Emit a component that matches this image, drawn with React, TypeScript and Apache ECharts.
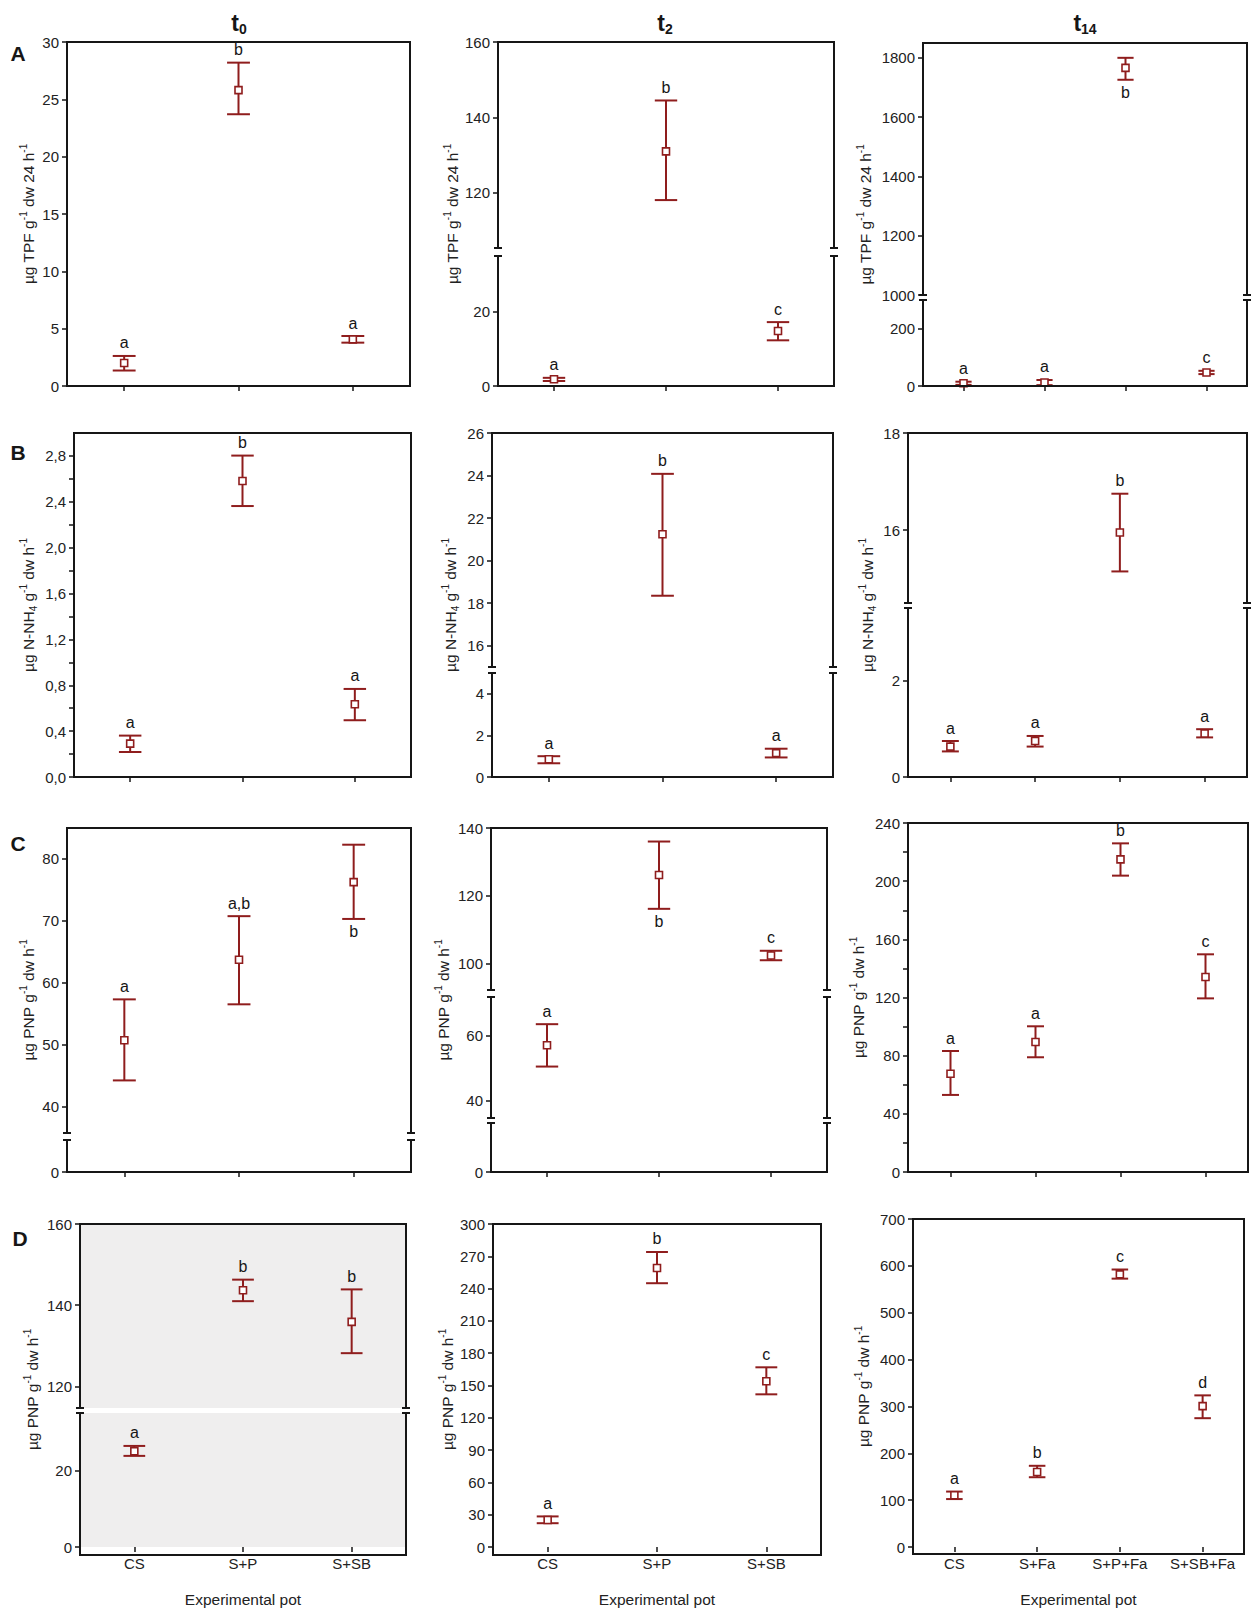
import React, { useEffect, useRef } from "react";
import * as echarts from "echarts";

// ---------- categories ----------
const CATS3 = ["CS", "S+P", "S+SB"];
const CATS4 = ["CS", "S+Fa", "S+P+Fa", "S+SB+Fa"];

// ---------- Row A : µg TPF g-1 dw 24 h-1 ----------
const A_T0_MEAN = [2.0, 25.8, 4.07];
const A_T0_LOW = [1.35, 23.7, 3.78];
const A_T0_HIGH = [2.62, 28.2, 4.36];
const A_T0_LET = ["a", "b", "a"];
const A_T0_POS = ["above", "above", "above"];

const A_T2_MEAN = [1.8, 131.0, 14.8];
const A_T2_LOW = [1.35, 118.1, 12.3];
const A_T2_HIGH = [2.2, 144.5, 17.2];
const A_T2_LET = ["a", "b", "c"];
const A_T2_POS = ["above", "above", "above"];

const A_T14_MEAN = [9.5, 12, 1766, 47];
const A_T14_LOW = [4, 3, 1726, 41.5];
const A_T14_HIGH = [15, 21, 1800, 53];
const A_T14_LET = ["a", "a", "b", "c"];
const A_T14_POS = ["above", "above", "below", "above"];

// ---------- Row B : µg N-NH4 g-1 dw h-1 ----------
const B_T0_MEAN = [0.291, 2.581, 0.634];
const B_T0_LOW = [0.218, 2.363, 0.495];
const B_T0_HIGH = [0.361, 2.803, 0.768];
const B_T0_LET = ["a", "b", "a"];
const B_T0_POS = ["above", "above", "above"];

const B_T2_MEAN = [0.85, 21.24, 1.15];
const B_T2_LOW = [0.66, 18.35, 0.94];
const B_T2_HIGH = [1.0, 24.08, 1.36];
const B_T2_LET = ["a", "b", "a"];
const B_T2_POS = ["above", "above", "above"];

const B_T14_MEAN = [0.63, 0.745, 15.95, 0.9];
const B_T14_LOW = [0.53, 0.63, 15.15, 0.82];
const B_T14_HIGH = [0.745, 0.85, 16.75, 0.99];
const B_T14_LET = ["a", "a", "b", "a"];
const B_T14_POS = ["above", "above", "above", "above"];

// ---------- Row C : µg PNP g-1 dw h-1 ----------
const C_T0_MEAN = [50.7, 63.7, 76.25];
const C_T0_LOW = [44.2, 56.5, 70.3];
const C_T0_HIGH = [57.3, 70.75, 82.3];
const C_T0_LET = ["a", "a,b", "b"];
const C_T0_POS = ["above", "above", "below"];

const C_T2_MEAN = [57.1, 126.1, 102.3];
const C_T2_LOW = [50.5, 116.1, 100.9];
const C_T2_HIGH = [63.6, 136.0, 103.7];
const C_T2_LET = ["a", "b", "c"];
const C_T2_POS = ["above", "below", "above"];

const C_T14_MEAN = [67.6, 89.4, 215.0, 134.1];
const C_T14_LOW = [53.0, 78.9, 203.8, 119.4];
const C_T14_HIGH = [83.2, 100.2, 226.0, 149.7];
const C_T14_LET = ["a", "a", "b", "c"];
const C_T14_POS = ["above", "above", "above", "above"];

// ---------- Row D : µg PNP g-1 dw h-1 ----------
const D_T0_MEAN = [25.0, 143.7, 135.9];
const D_T0_LOW = [23.8, 141.0, 128.2];
const D_T0_HIGH = [26.4, 146.3, 143.9];
const D_T0_LET = ["a", "b", "b"];
const D_T0_POS = ["above", "above", "above"];

const D_T2_MEAN = [25.1, 259.2, 153.9];
const D_T2_LOW = [22.1, 245.0, 141.8];
const D_T2_HIGH = [28.4, 274.0, 166.9];
const D_T2_LET = ["a", "b", "c"];
const D_T2_POS = ["above", "above", "above"];

const D_T14_MEAN = [110.6, 160.1, 581.8, 300.6];
const D_T14_LOW = [102.3, 148.9, 572.7, 274.9];
const D_T14_HIGH = [118.3, 173.3, 592.2, 323.6];
const D_T14_LET = ["a", "b", "c", "d"];
const D_T14_POS = ["above", "above", "above", "above"];

// ---------- tick labels ----------
const A_T0_TICKS = [0, 5, 10, 15, 20, 25, 30];
const A_T2_TICKS_HI = [120, 140, 160];
const A_T2_TICKS_LO = [0, 20];
const A_T14_TICKS_HI = [1000, 1200, 1400, 1600, 1800];
const A_T14_TICKS_LO = [0, 200];
const B_T0_TICKS = [0, 0.4, 0.8, 1.2, 1.6, 2.0, 2.4, 2.8];
const B_T0_MINOR = [0.2, 0.6, 1.0, 1.4, 1.8, 2.2, 2.6];
const B_T2_TICKS_HI = [16, 18, 20, 22, 24, 26];
const B_T2_TICKS_LO = [0, 2, 4];
const B_T14_TICKS_HI = [16, 18];
const B_T14_TICKS_LO = [0, 2];
const C_T0_TICKS_HI = [40, 50, 60, 70, 80];
const C_T0_TICKS_LO = [0];
const C_T2_TICKS_HI = [100, 120, 140];
const C_T2_TICKS_MID = [40, 60];
const C_T2_TICKS_LO = [0];
const C_T14_TICKS = [0, 40, 80, 120, 160, 200, 240];
const C_T14_MINOR = [20, 60, 100, 140, 180, 220];
const D_T0_TICKS_HI = [120, 140, 160];
const D_T0_TICKS_LO = [0, 20];
const D_T2_TICKS = [0, 30, 60, 90, 120, 150, 180, 210, 240, 270, 300];
const D_T14_TICKS = [0, 100, 200, 300, 400, 500, 600, 700];

const COL_TITLES = [
  { base: "t", sub: "0" },
  { base: "t", sub: "2" },
  { base: "t", sub: "14" },
];
const ROW_LETTERS = ["A", "B", "C", "D"];
const X_NAME = "Experimental pot";
const Y_NAME_A = "{n|µg TPF g}{sup|-1}{n| dw 24 h}{sup|-1}";
const Y_NAME_B = "{n|µg N-NH}{sub|4}{n| g}{sup|-1}{n| dw h}{sup|-1}";
const Y_NAME_CD = "{n|µg PNP g}{sup|-1}{n| dw h}{sup|-1}";

// ---------- style ----------
const RED = "#8f1d1d";
const INK = "#161616";
const FONT = '"Liberation Sans", Arial, Helvetica, sans-serif';

type Seg = { min: number; max: number; top: number; bottom: number; ticks: number[]; minor?: number[] };
type Panel = {
  cats: string[];
  mean: number[];
  low: number[];
  high: number[];
  letters: string[];
  pos: string[];
  L: number;
  R: number;
  segs: Seg[];
  yName: string;
  nameX: number;
  showX: boolean;
  bg?: string;
  comma?: boolean;
};

const PANELS: Panel[] = [
  // Row A
  {
    cats: CATS3, mean: A_T0_MEAN, low: A_T0_LOW, high: A_T0_HIGH, letters: A_T0_LET, pos: A_T0_POS,
    L: 67, R: 410, segs: [{ min: 0, max: 30, top: 42, bottom: 386, ticks: A_T0_TICKS }],
    yName: Y_NAME_A, nameX: 28, showX: false,
  },
  {
    cats: CATS3, mean: A_T2_MEAN, low: A_T2_LOW, high: A_T2_HIGH, letters: A_T2_LET, pos: A_T2_POS,
    L: 498, R: 834,
    segs: [
      { min: 105.4, max: 160, top: 42, bottom: 248, ticks: A_T2_TICKS_HI },
      { min: 0, max: 35, top: 256, bottom: 386, ticks: A_T2_TICKS_LO },
    ],
    yName: Y_NAME_A, nameX: 452, showX: false,
  },
  {
    cats: CATS4, mean: A_T14_MEAN, low: A_T14_LOW, high: A_T14_HIGH, letters: A_T14_LET, pos: A_T14_POS,
    L: 923, R: 1247,
    segs: [
      { min: 1000, max: 1850, top: 43, bottom: 295, ticks: A_T14_TICKS_HI },
      { min: 0, max: 300, top: 300, bottom: 386, ticks: A_T14_TICKS_LO },
    ],
    yName: Y_NAME_A, nameX: 865, showX: false,
  },
  // Row B
  {
    cats: CATS3, mean: B_T0_MEAN, low: B_T0_LOW, high: B_T0_HIGH, letters: B_T0_LET, pos: B_T0_POS,
    L: 74, R: 411, segs: [{ min: 0, max: 3.0, top: 433, bottom: 777, ticks: B_T0_TICKS, minor: B_T0_MINOR }],
    yName: Y_NAME_B, nameX: 28, showX: false, comma: true,
  },
  {
    cats: CATS3, mean: B_T2_MEAN, low: B_T2_LOW, high: B_T2_HIGH, letters: B_T2_LET, pos: B_T2_POS,
    L: 492, R: 833,
    segs: [
      { min: 15, max: 26, top: 433, bottom: 667, ticks: B_T2_TICKS_HI },
      { min: 0, max: 5, top: 673, bottom: 777, ticks: B_T2_TICKS_LO },
    ],
    yName: Y_NAME_B, nameX: 450, showX: false,
  },
  {
    cats: CATS4, mean: B_T14_MEAN, low: B_T14_LOW, high: B_T14_HIGH, letters: B_T14_LET, pos: B_T14_POS,
    L: 908, R: 1247,
    segs: [
      { min: 14.5, max: 18, top: 433, bottom: 603, ticks: B_T14_TICKS_HI },
      { min: 0, max: 3.5, top: 608, bottom: 777, ticks: B_T14_TICKS_LO },
    ],
    yName: Y_NAME_B, nameX: 867, showX: false,
  },
  // Row C
  {
    cats: CATS3, mean: C_T0_MEAN, low: C_T0_LOW, high: C_T0_HIGH, letters: C_T0_LET, pos: C_T0_POS,
    L: 67, R: 411,
    segs: [
      { min: 35.7, max: 85, top: 828, bottom: 1133, ticks: C_T0_TICKS_HI },
      { min: 0, max: 5, top: 1140, bottom: 1172, ticks: C_T0_TICKS_LO },
    ],
    yName: Y_NAME_CD, nameX: 28, showX: false,
  },
  {
    cats: CATS3, mean: C_T2_MEAN, low: C_T2_LOW, high: C_T2_HIGH, letters: C_T2_LET, pos: C_T2_POS,
    L: 491, R: 827,
    segs: [
      { min: 92.1, max: 140, top: 828, bottom: 990, ticks: C_T2_TICKS_HI },
      { min: 34.6, max: 72, top: 997, bottom: 1118, ticks: C_T2_TICKS_MID },
      { min: 0, max: 15, top: 1123, bottom: 1172, ticks: C_T2_TICKS_LO },
    ],
    yName: Y_NAME_CD, nameX: 443, showX: false,
  },
  {
    cats: CATS4, mean: C_T14_MEAN, low: C_T14_LOW, high: C_T14_HIGH, letters: C_T14_LET, pos: C_T14_POS,
    L: 908, R: 1248, segs: [{ min: 0, max: 240, top: 823, bottom: 1172, ticks: C_T14_TICKS, minor: C_T14_MINOR }],
    yName: Y_NAME_CD, nameX: 858, showX: false,
  },
  // Row D
  {
    cats: CATS3, mean: D_T0_MEAN, low: D_T0_LOW, high: D_T0_HIGH, letters: D_T0_LET, pos: D_T0_POS,
    L: 80, R: 406,
    segs: [
      { min: 114.7, max: 160, top: 1224, bottom: 1408, ticks: D_T0_TICKS_HI },
      { min: 0, max: 35, top: 1413, bottom: 1555, ticks: D_T0_TICKS_LO },
    ],
    yName: Y_NAME_CD, nameX: 32, showX: true, bg: "#efeeee",
  },
  {
    cats: CATS3, mean: D_T2_MEAN, low: D_T2_LOW, high: D_T2_HIGH, letters: D_T2_LET, pos: D_T2_POS,
    L: 493, R: 821, segs: [{ min: 0, max: 300, top: 1224, bottom: 1555, ticks: D_T2_TICKS }],
    yName: Y_NAME_CD, nameX: 447, showX: true,
  },
  {
    cats: CATS4, mean: D_T14_MEAN, low: D_T14_LOW, high: D_T14_HIGH, letters: D_T14_LET, pos: D_T14_POS,
    L: 913, R: 1244, segs: [{ min: 0, max: 700, top: 1219, bottom: 1554, ticks: D_T14_TICKS }],
    yName: Y_NAME_CD, nameX: 863, showX: true,
  },
];

const COL_TITLE_X = [239, 665, 1085];
const COL_TITLE_Y = 23;
const ROW_LETTER_POS = [
  [18, 53],
  [18, 452],
  [18, 843],
  [20, 1238],
];

function makeRender(p: Panel) {
  return (params: any, api: any) => {
    const c = api.value(0);
    const m = api.value(1);
    const lo = api.value(2);
    const hi = api.value(3);
    const idx = api.value(4);
    const pm = api.coord([c, m]);
    const pl = api.coord([c, lo]);
    const ph = api.coord([c, hi]);
    const band = api.size([1, 0])[0];
    const hw = band * 0.1;
    const st = { stroke: RED, lineWidth: 2 };
    const below = p.pos[idx] === "below";
    return {
      type: "group",
      children: [
        { type: "line", shape: { x1: pm[0], y1: ph[1], x2: pm[0], y2: pl[1] }, style: st },
        { type: "line", shape: { x1: pm[0] - hw, y1: ph[1], x2: pm[0] + hw, y2: ph[1] }, style: st },
        { type: "line", shape: { x1: pm[0] - hw, y1: pl[1], x2: pm[0] + hw, y2: pl[1] }, style: st },
        {
          type: "rect",
          shape: { x: pm[0] - 3.5, y: pm[1] - 3.5, width: 7, height: 7 },
          style: { fill: "#ffffff", stroke: RED, lineWidth: 1.6 },
        },
        {
          type: "text",
          style: {
            text: p.letters[idx],
            x: pm[0],
            y: below ? pl[1] + 5 : ph[1] - 5,
            align: "center",
            verticalAlign: below ? "top" : "bottom",
            fontSize: 16,
            fontFamily: FONT,
            fill: INK,
          },
        },
      ],
    };
  };
}

function buildOption() {
  const grids: any[] = [];
  const xAxes: any[] = [];
  const yAxes: any[] = [];
  const series: any[] = [];
  const g: any[] = [];
  const lineStyle = { stroke: INK, lineWidth: 2 };
  const seg = (x1: number, y1: number, x2: number, y2: number) => ({
    type: "line",
    silent: true,
    z: 100,
    shape: { x1, y1, x2, y2 },
    style: lineStyle,
  });

  PANELS.forEach((p) => {
    const n = p.segs.length;
    p.segs.forEach((s, si) => {
      const gi = grids.length;
      const isBottom = si === n - 1;
      grids.push({
        left: p.L,
        top: s.top,
        width: p.R - p.L,
        height: s.bottom - s.top,
        show: !!p.bg,
        backgroundColor: p.bg || "transparent",
        borderWidth: 0,
      });
      xAxes.push({
        gridIndex: gi,
        type: "category",
        data: p.cats,
        boundaryGap: true,
        axisLine: { show: false },
        axisTick: {
          show: isBottom,
          alignWithLabel: true,
          inside: false,
          length: 5,
          interval: 0,
          lineStyle: { color: INK, width: 1.5 },
        },
        axisLabel: {
          show: isBottom && p.showX,
          interval: 0,
          fontSize: 15,
          color: "#222",
          margin: 9,
          fontFamily: FONT,
        },
        name: isBottom && p.showX ? X_NAME : "",
        nameLocation: "middle",
        nameGap: 44,
        nameTextStyle: { fontSize: 15.5, color: "#222", fontFamily: FONT },
        splitLine: { show: false },
      });
      yAxes.push({
        gridIndex: gi,
        type: "value",
        min: s.min,
        max: s.max,
        axisLine: { show: false },
        axisTick: {
          show: true,
          inside: false,
          length: 5,
          customValues: [...s.ticks, ...(s.minor || [])],
          lineStyle: { color: INK, width: 1.5 },
        },
        axisLabel: {
          customValues: s.ticks,
          fontSize: 15,
          color: "#222",
          margin: 8,
          fontFamily: FONT,
          formatter: (v: number) => (p.comma ? v.toFixed(1).replace(".", ",") : String(v)),
        },
        splitLine: { show: false },
      });
      const items = p.mean
        .map((m, i) => [i, m, p.low[i], p.high[i], i])
        .filter((d) => d[1] >= s.min && d[1] <= s.max);
      series.push({
        type: "custom",
        xAxisIndex: gi,
        yAxisIndex: gi,
        data: items,
        clip: false,
        z: 10,
        renderItem: makeRender(p),
      });

      // frame verticals for this segment
      g.push(seg(p.L, s.top, p.L, s.bottom));
      g.push(seg(p.R, s.top, p.R, s.bottom));
      if (si > 0) {
        const prev = p.segs[si - 1];
        [p.L, p.R].forEach((x) => {
          g.push(seg(x - 4, prev.bottom, x + 4, prev.bottom));
          g.push(seg(x - 4, s.top, x + 4, s.top));
        });
      }
    });
    const top = p.segs[0].top;
    const bottom = p.segs[n - 1].bottom;
    g.push(seg(p.L - 1, top, p.R + 1, top));
    g.push(seg(p.L - 1, bottom, p.R + 1, bottom));

    // y-axis name
    g.push({
      type: "text",
      silent: true,
      x: p.nameX,
      y: (top + bottom) / 2,
      rotation: Math.PI / 2,
      style: {
        text: p.yName,
        align: "center",
        verticalAlign: "middle",
        fill: "#222",
        rich: {
          n: { fontSize: 15.5, fontFamily: FONT, fill: "#222", lineHeight: 20 },
          sup: { fontSize: 10, fontFamily: FONT, fill: "#222", lineHeight: 10, verticalAlign: "top" },
          sub: { fontSize: 10, fontFamily: FONT, fill: "#222", lineHeight: 10, verticalAlign: "bottom" },
        },
      },
    });
  });

  COL_TITLES.forEach((t, i) => {
    g.push({
      type: "text",
      silent: true,
      x: COL_TITLE_X[i],
      y: COL_TITLE_Y,
      style: {
        text: `{b|${t.base}}{s|${t.sub}}`,
        align: "center",
        verticalAlign: "middle",
        rich: {
          b: { fontSize: 23, fontWeight: "bold", fontFamily: FONT, fill: INK, lineHeight: 26 },
          s: { fontSize: 14, fontWeight: "bold", fontFamily: FONT, fill: INK, lineHeight: 14, verticalAlign: "bottom" },
        },
      },
    });
  });

  ROW_LETTERS.forEach((l, i) => {
    g.push({
      type: "text",
      silent: true,
      x: ROW_LETTER_POS[i][0],
      y: ROW_LETTER_POS[i][1],
      style: {
        text: l,
        align: "center",
        verticalAlign: "middle",
        fontSize: 21,
        fontWeight: "bold",
        fontFamily: FONT,
        fill: INK,
      },
    });
  });

  return {
    animation: false,
    backgroundColor: "#ffffff",
    textStyle: { fontFamily: FONT },
    grid: grids,
    xAxis: xAxes,
    yAxis: yAxes,
    series,
    graphic: { elements: g },
  };
}

export default function App() {
  const ref = useRef<HTMLDivElement>(null);
  useEffect(() => {
    if (!ref.current) return;
    const chart = echarts.init(ref.current, undefined, { renderer: "svg" });
    chart.setOption(buildOption() as any);
    return () => chart.dispose();
  }, []);
  return (
    <div
      ref={ref}
      style={{ position: "absolute", left: 0, top: 0, width: 1254, height: 1608, background: "#fff" }}
    />
  );
}
